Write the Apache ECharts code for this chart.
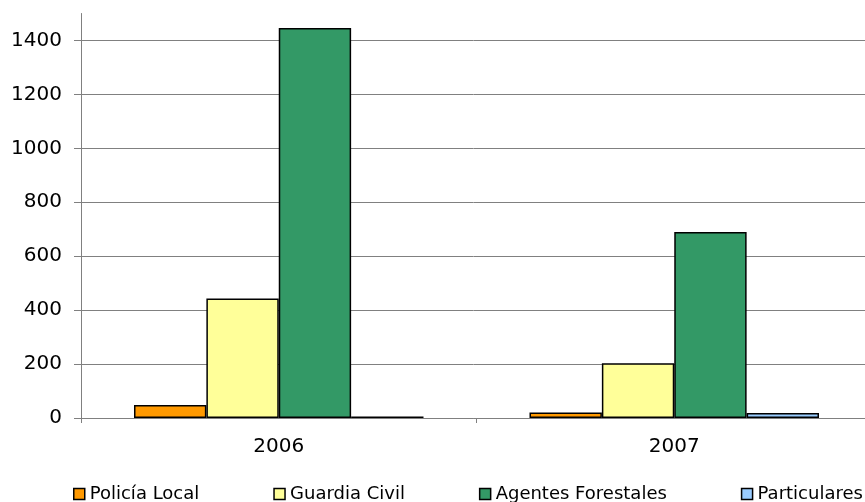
<!DOCTYPE html>
<html>
<head>
<meta charset="utf-8">
<script src="https://cdn.jsdelivr.net/npm/echarts@6/dist/echarts.min.js"></script>
<style>html,body{margin:0;padding:0;background:#fff}#c{width:865px;height:502px}</style>
</head>
<body>
<div id="c"></div>
<script>
const categories = ['2006', '2007'];
const seriesNames = ['Policía Local', 'Guardia Civil', 'Agentes Forestales', 'Particulares'];
const policiaLocal = [48, 20];
const guardiaCivil = [443, 203];
const agentesForestales = [1446, 690];
const particulares = [6, 19];
const yTicks = [0, 200, 400, 600, 800, 1000, 1200, 1400];

const colors = ['#FF9900', '#FFFF99', '#339966', '#99CCFF'];
const values = [policiaLocal, guardiaCivil, agentesForestales, particulares];
const FONT = 'DejaVu Sans';

const chart = echarts.init(document.getElementById('c'));
chart.setOption({
  animation: false,
  backgroundColor: '#ffffff',
  grid: { left: 81, right: -7, top: 13.5, bottom: 84, containLabel: false, outerBoundsMode: 'none' },
  legend: {
    left: 68, top: 480, width: 1000,
    itemWidth: 11, itemHeight: 11, itemGap: 74,
    icon: 'rect',
    textStyle: { fontFamily: FONT, fontSize: 18, color: '#000' },
    itemStyle: { borderColor: '#000', borderWidth: 1.5 },
    data: seriesNames
  },
  xAxis: {
    type: 'category',
    data: categories,
    axisLine: { lineStyle: { color: '#808080', width: 1 } },
    axisTick: { show: true, length: 5, lineStyle: { color: '#808080' } },
    axisLabel: { fontFamily: FONT, fontSize: 20, color: '#000', margin: 19 },
    splitLine: { show: false }
  },
  yAxis: {
    type: 'value',
    min: 0, max: 1500, interval: 200,
    axisLine: { show: true, lineStyle: { color: '#808080', width: 1 } },
    axisTick: { show: true, length: 7, lineStyle: { color: '#808080' }, customValues: yTicks },
    axisLabel: { fontFamily: FONT, fontSize: 20, color: '#000', margin: 19, customValues: yTicks, formatter: v => String(v) },
    splitLine: { show: true, lineStyle: { color: '#808080', width: 1 } }
  },
  series: seriesNames.map((name, i) => ({
    name: name,
    type: 'bar',
    data: values[i],
    barGap: '0%',
    barCategoryGap: '26.8%',
    itemStyle: { color: colors[i], borderColor: '#000', borderWidth: 1.5 }
  }))
});
</script>
</body>
</html>
